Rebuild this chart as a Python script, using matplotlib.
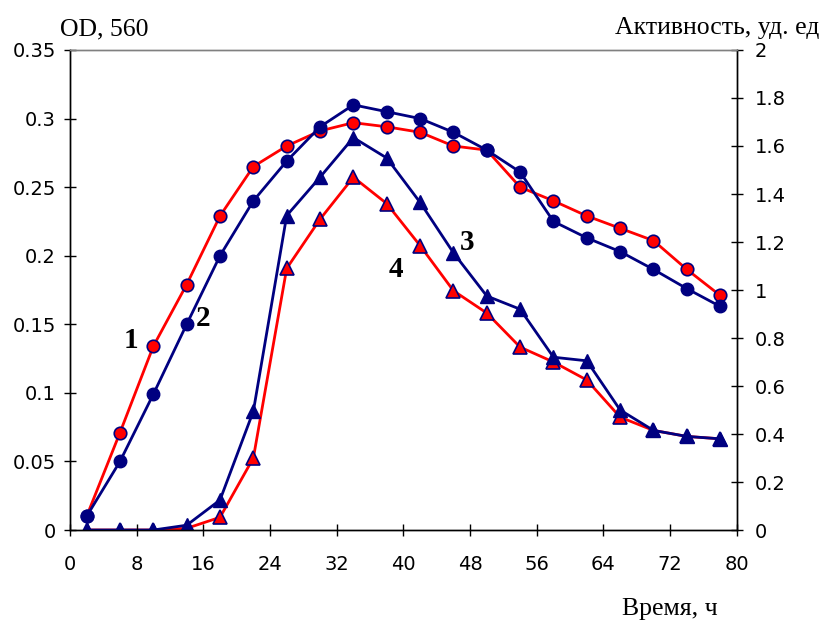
import matplotlib
matplotlib.use("Agg")
from matplotlib import pyplot as plt

# time, h
hours = [2, 6, 10, 14, 18, 22, 26, 30, 34, 38, 42, 46, 50, 54, 58, 62, 66, 70, 74, 78]

# OD 560 (left axis)
od_1 = [0.010, 0.071, 0.134, 0.179, 0.229, 0.265, 0.280, 0.291, 0.297, 0.294,
        0.290, 0.280, 0.277, 0.250, 0.240, 0.229, 0.220, 0.211, 0.190, 0.171]
od_2 = [0.010, 0.050, 0.099, 0.150, 0.200, 0.240, 0.269, 0.294, 0.310, 0.305,
        0.300, 0.290, 0.277, 0.261, 0.225, 0.213, 0.203, 0.190, 0.176, 0.163]

# activity (right axis)
act_3 = [0.0, 0.0, 0.0, 0.02, 0.125, 0.495, 1.31, 1.47, 1.635, 1.55,
         1.365, 1.155, 0.975, 0.92, 0.72, 0.705, 0.50, 0.415, 0.39, 0.38]
act_4 = [0.0, 0.0, 0.0, 0.007, 0.053, 0.30, 1.09, 1.295, 1.47, 1.36,
         1.185, 0.997, 0.904, 0.762, 0.70, 0.625, 0.47, 0.415, 0.39, 0.38]

RED = '#ff0000'
NAVY = '#000080'

plt.rcParams['font.family'] = ['DejaVu Sans']

fig = plt.figure(figsize=(8.27, 6.21), dpi=100)
ax = fig.add_axes([0.0846, 0.1465, 0.8064, 0.773])
ax2 = ax.twinx()

ax2.plot(hours, act_4, color=RED, lw=2, marker='^', ms=9.5, mfc=RED, mec=NAVY, mew=1.2, zorder=2)
ax2.plot(hours, act_3, color=NAVY, lw=2, marker='^', ms=9.5, mfc=NAVY, mec=NAVY, zorder=3)
ax2.set_ylim(0, 2)
ax2.set_yticks([0, 0.2, 0.4, 0.6, 0.8, 1, 1.2, 1.4, 1.6, 1.8, 2])
ax2.set_yticklabels(['0', '0.2', '0.4', '0.6', '0.8', '1', '1.2', '1.4', '1.6', '1.8', '2'])

ax.set_zorder(ax2.get_zorder() + 1)
ax.patch.set_visible(False)
ax.plot(hours, od_1, color=RED, lw=2, marker='o', ms=9, mfc=RED, mec=NAVY, mew=1.2, zorder=3)
ax.plot(hours, od_2, color=NAVY, lw=2, marker='o', ms=9, mfc=NAVY, mec=NAVY, zorder=4)
ax.set_xlim(0, 80)
ax.set_ylim(0, 0.35)
ax.set_xticks(range(0, 81, 8))
ax.set_yticks([0, 0.05, 0.1, 0.15, 0.2, 0.25, 0.3, 0.35])
ax.set_yticklabels(['0', '0.05', '0.1', '0.15', '0.2', '0.25', '0.3', '0.35'])

for a in (ax, ax2):
    a.tick_params(direction='inout', length=8, width=1, labelsize=14, pad=6)
    for s in a.spines.values():
        s.set_linewidth(1)
    a.spines['top'].set_color('#808080')
ax.tick_params(axis='x', pad=14)
ax2.tick_params(axis='y', pad=9)

serif = ['Liberation Serif', 'DejaVu Serif']
fig.text(60 / 827, 1 - 35 / 621, 'OD, 560', family=serif, fontsize=18.5, ha='left', va='baseline')
fig.text(819 / 827, 1 - 34 / 621, 'Активность, уд. ед', family=serif, fontsize=18.5,
         ha='right', va='baseline')
fig.text(670 / 827, 1 - 615 / 621, 'Время, ч', family=serif, fontsize=18.5,
         ha='center', va='baseline')

for txt, x, y in [('1', 131, 341), ('2', 203, 318), ('3', 467, 243), ('4', 396, 270)]:
    fig.text(x / 827, 1 - y / 621, txt, family=serif, fontsize=21, fontweight='bold',
             ha='center', va='center')

fig.savefig('out.png', dpi=100)
